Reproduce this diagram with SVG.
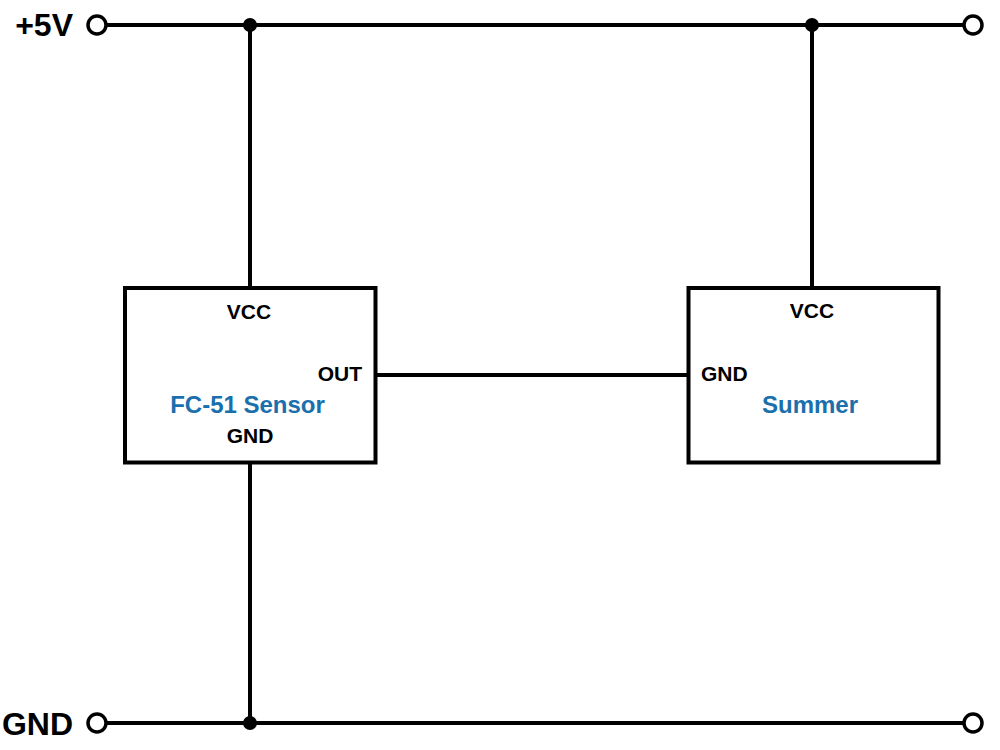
<svg xmlns="http://www.w3.org/2000/svg" width="1000" height="750" viewBox="0 0 1000 750">
<style>
.w{stroke:#000;stroke-width:4;fill:none}
.box{fill:#fff;stroke:#000;stroke-width:4}
.pin{font-family:"Liberation Sans",Arial,sans-serif;font-weight:bold;font-size:21px;fill:#000}
.name{font-family:"Liberation Sans",Arial,sans-serif;font-weight:bold;font-size:24px;fill:#1a6fad}
.rail{font-family:"Liberation Sans",Arial,sans-serif;font-weight:bold;font-size:32px;fill:#000}
.term{fill:#fff;stroke:#000;stroke-width:3.5}
.dot{fill:#000}
</style>
<rect width="1000" height="750" fill="#fff"/>
<g id="connectors">
<line class="w" x1="106" y1="25" x2="964" y2="25"/>
<line class="w" x1="106" y1="723" x2="964" y2="723"/>
<line class="w" x1="250" y1="25" x2="250" y2="288"/>
<line class="w" x1="812" y1="25" x2="812" y2="288"/>
<line class="w" x1="250" y1="463" x2="250" y2="723"/>
<line class="w" x1="376" y1="375" x2="688" y2="375"/>
<circle class="dot" cx="250" cy="25" r="7"/>
<circle class="dot" cx="812" cy="25" r="7"/>
<circle class="dot" cx="250" cy="723" r="7"/>
</g>
<g id="vcc-rail">
<text class="rail" x="73" y="36" text-anchor="end">+5V</text>
<circle class="term" cx="97" cy="25" r="9"/>
<circle class="term" cx="973" cy="25" r="9"/>
</g>
<g id="gnd-rail">
<text class="rail" x="73" y="735" text-anchor="end">GND</text>
<circle class="term" cx="97" cy="723" r="9"/>
<circle class="term" cx="973" cy="723" r="9"/>
</g>
<g id="sensor">
<rect class="box" x="125" y="288" width="250.5" height="174.5"/>
<text class="pin" x="249" y="319" text-anchor="middle">VCC</text>
<text class="pin" x="362" y="381" text-anchor="end">OUT</text>
<text class="name" x="247.5" y="413" text-anchor="middle">FC-51 Sensor</text>
<text class="pin" x="250" y="443" text-anchor="middle">GND</text>
</g>
<g id="summer">
<rect class="box" x="688.5" y="288" width="250" height="174.5"/>
<text class="pin" x="812" y="318" text-anchor="middle">VCC</text>
<text class="pin" x="701" y="381">GND</text>
<text class="name" x="810" y="413" text-anchor="middle">Summer</text>
</g>
</svg>
